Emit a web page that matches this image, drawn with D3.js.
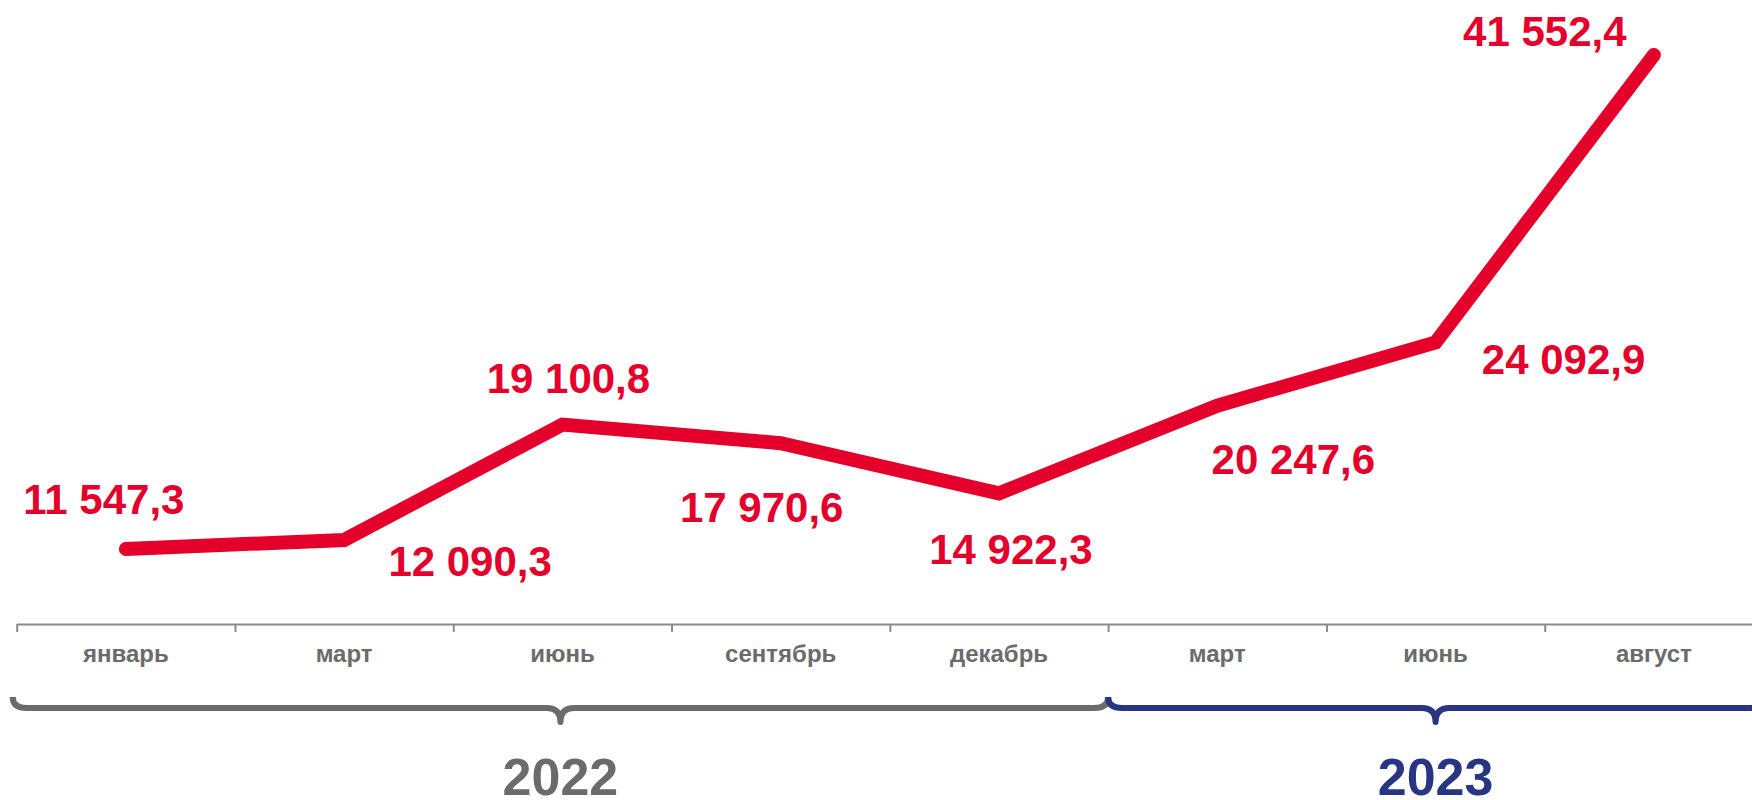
<!DOCTYPE html>
<meta charset="utf-8">
<style>
    body { margin: 0; background: #fff; }
    svg text { font-family: "Liberation Sans", Arial, sans-serif; font-weight: bold; }
    .cat { font-size: 24px; fill: #6b6b6b; text-anchor: middle; }
    .val { font-size: 42px; fill: #e4002b; text-anchor: middle; }
    .year { font-size: 52px; text-anchor: middle; }
</style>
<svg width="1752" height="800"></svg>
<script src="https://cdn.jsdelivr.net/npm/d3@7"></script>
<script>

    var months = ["январь", "март", "июнь", "сентябрь", "декабрь", "март", "июнь", "август"];
    var values = [11547.3, 12090.3, 19100.8, 17970.6, 14922.3, 20247.6, 24092.9, 41552.4];
    var years = ["2022", "2023"];
    var yearStart = [0, 5];   // first month index of each year
    var yearEnd = [5, 8];     // index after last month
    var yearColors = ["#6b6b6b", "#283583"];

    // where each value label sits relative to its point
    var labelOffset = [[-22, -35], [126, 36], [6, -32], [-19, 79], [12, 71], [76, 68], [128, 32], [-109, -9]];

    var svg = d3.select("svg");

    var idx = d3.range(months.length);

    var x = d3.scaleBand()
        .domain(idx)
        .range([16.7, 1763])
        .padding(0);

    var xEdge = d3.scaleLinear()
        .domain([0, months.length])
        .range(x.range());

    var y = d3.scaleLinear()
        .domain([0, d3.max(values)])
        .range([739, 55]);

    var cx = function (i) { return x(i) + x.bandwidth() / 2; };

    var ru = d3.formatLocale({decimal: ",", thousands: " ", grouping: [3], currency: ["", ""]});
    var fmt = ru.format(",.1f");

    // axis with ticks on the band edges
    var axis = svg.append("g")
        .attr("transform", "translate(0,624)")
        .call(d3.axisBottom(xEdge)
            .tickValues(idx)
            .tickSize(8)
            .tickSizeOuter(0)
            .tickFormat(""));
    axis.selectAll("path, line").attr("stroke", "#8a8a8a").attr("stroke-width", 2);

    svg.selectAll(".cat")
        .data(months)
        .enter().append("text")
        .attr("class", "cat")
        .attr("x", function (d, i) { return cx(i); })
        .attr("y", 662)
        .text(function (d) { return d; });

    // line
    var line = d3.line()
        .x(function (d, i) { return cx(i); })
        .y(function (d) { return y(d); });

    svg.append("path")
        .datum(values)
        .attr("d", line)
        .attr("fill", "none")
        .attr("stroke", "#e4002b")
        .attr("stroke-width", 14)
        .attr("stroke-linecap", "round")
        .attr("stroke-linejoin", "miter");

    svg.selectAll(".val")
        .data(values)
        .enter().append("text")
        .attr("class", "val")
        .attr("x", function (d, i) { return cx(i) + labelOffset[i][0]; })
        .attr("y", function (d, i) { return y(d) + labelOffset[i][1]; })
        .text(function (d) { return fmt(d); });

    // curly braces under the years
    function brace(x1, x2) {
        var m = (x1 + x2) / 2, yT = 697, yL = 708, yB = 722, r = 14;
        return "M" + x1 + "," + yT +
            "Q" + x1 + "," + yL + " " + (x1 + r) + "," + yL +
            "L" + (m - r) + "," + yL +
            "Q" + m + "," + yL + " " + m + "," + yB +
            "Q" + m + "," + yL + " " + (m + r) + "," + yL +
            "L" + (x2 - r) + "," + yL +
            "Q" + x2 + "," + yL + " " + x2 + "," + yT;
    }

    years.forEach(function (yr, k) {
        var x1 = xEdge(yearStart[k]) - (k === 0 ? 4 : 0);
        var x2 = xEdge(yearEnd[k]);
        svg.append("path")
            .attr("d", brace(x1, x2))
            .attr("fill", "none")
            .attr("stroke", yearColors[k])
            .attr("stroke-width", 6)
            .attr("stroke-linejoin", "round");
        svg.append("text")
            .attr("class", "year")
            .attr("x", (x1 + x2) / 2)
            .attr("y", 795)
            .attr("fill", yearColors[k])
            .text(yr);
    });
</script>
